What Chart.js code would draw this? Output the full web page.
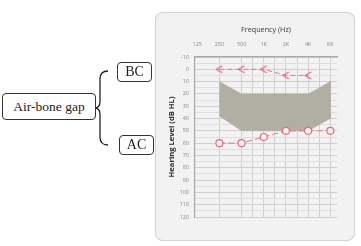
<!DOCTYPE html>
<html>
<head>
<meta charset="utf-8">
<script src="https://cdn.jsdelivr.net/npm/chart.js@4/dist/chart.umd.min.js"></script>
<style>
  html, body { margin:0; padding:0; background:#ffffff; }
  #wrap { position:relative; width:361px; height:246px; overflow:hidden; }
  #panel { position:absolute; left:155px; top:12px; width:198px; height:227px;
           background:#f2f2f2; border:1px solid #d3d3d3; border-radius:8px;
           box-shadow: 0 0 1px rgba(0,0,0,0.15); }
  canvas { position:absolute; left:0; top:0; }
  .box { position:absolute; border:1px solid #333; border-radius:4px; background:#fff;
         font-family:"Liberation Serif","Times New Roman",serif; color:#222;
         display:flex; align-items:center; justify-content:center; box-sizing:border-box; }
  svg { position:absolute; left:0; top:0; }
</style>
</head>
<body>
<div id="wrap">
  <div id="panel"></div>
  <canvas id="c" width="361" height="246"></canvas>
  <svg width="361" height="246">
    <path d="M108,71 Q100,71 100,79 L100,102 Q100,108 94,108 Q100,108 100,114 L100,137 Q100,145 108,145"
          fill="none" stroke="#222" stroke-width="1.3"/>
  </svg>
  <div class="box" style="left:2px;top:93px;width:94px;height:27px;font-size:13.5px;">Air-bone gap</div>
  <div class="box" style="left:117px;top:62px;width:35px;height:20px;font-size:14px;">BC</div>
  <div class="box" style="left:119px;top:135px;width:35px;height:20px;font-size:14px;">AC</div>
</div>
<script>
// ---- data ----
const freqLabels = ['125', '250', '500', '1K', '2K', '4K', '8K'];
const freqTickPositions = [0, 1, 2, 2.5, 3, 3.5, 4, 4.5, 5, 5.5, 6];
const bcFreqIndex = [1, 2, 3, 4, 5];
const bcLevels = [0, 0, 0, 5, 5];
const acFreqIndex = [1, 2, 3, 4, 5, 6];
const acLevels = [60, 60, 55, 50, 50, 50];
const bandFreqIndex = [1, 2, 5, 6, 6, 5, 2, 1];
const bandLevels = [10, 20, 20, 10, 40, 50, 50, 38];

const markColor = '#e26d80';
const lineColor = 'rgba(226,109,128,0.9)';

function toPoints(xs, ys) { return xs.map((x, i) => ({ x: x, y: ys[i] })); }

// "<" marker for bone conduction
const bcMarker = document.createElement('canvas');
bcMarker.width = 9; bcMarker.height = 9;
(function () {
  const g = bcMarker.getContext('2d');
  g.strokeStyle = markColor; g.lineWidth = 1.3;
  g.beginPath(); g.moveTo(7.5, 1); g.lineTo(1.5, 4.5); g.lineTo(7.5, 8); g.stroke();
})();

const tickFont = { family: '"Open Sans", "DejaVu Sans", sans-serif', size: 5.5 };

new Chart(document.getElementById('c'), {
  type: 'line',
  data: {
    datasets: [
      {
        label: 'BC',
        data: toPoints(bcFreqIndex, bcLevels),
        borderColor: lineColor, borderWidth: 1, borderDash: [5, 3],
        pointStyle: bcMarker, pointRadius: 4, order: 0
      },
      {
        label: 'AC',
        data: toPoints(acFreqIndex, acLevels),
        borderColor: lineColor, borderWidth: 1, borderDash: [6, 3],
        pointStyle: 'circle', pointRadius: 3.5, pointBorderWidth: 1.2,
        pointBorderColor: markColor, pointBackgroundColor: '#f2f2f2', order: 0
      },
      {
        label: 'band',
        data: toPoints(bandFreqIndex, bandLevels),
        borderColor: '#b1afa1', borderWidth: 0.5, backgroundColor: '#b1afa1',
        fill: 'shape', pointRadius: 0, tension: 0, order: 2
      }
    ]
  },
  options: {
    responsive: false, animation: false,
    layout: { padding: { left: 160, top: 22, right: 24, bottom: 29 } },
    plugins: { legend: { display: false }, tooltip: { enabled: false } },
    scales: {
      x: {
        type: 'linear', position: 'top', min: -0.1, max: 6.3,
        afterBuildTicks: s => { s.ticks = freqTickPositions.map(v => ({ value: v })); },
        afterFit: s => { s.height = 35; },
        ticks: {
          autoSkip: false, maxRotation: 0, padding: 9, color: '#888', font: tickFont,
          callback: v => Number.isInteger(v) ? freqLabels[v] : ''
        },
        grid: {
          drawTicks: false, lineWidth: 1,
          color: ctx => (ctx.tick && ctx.tick.value === 0) ? 'rgba(0,0,0,0)' : '#d0d0d0'
        },
        border: { color: '#a8a8a8', width: 1.2 },
        title: {
          display: true, text: 'Frequency (Hz)', color: '#3a3a3a',
          font: { family: '"Open Sans", "DejaVu Sans", sans-serif', size: 7.2 },
          padding: { top: 4, bottom: 0 }
        }
      },
      y: {
        type: 'linear', reverse: true, min: -10, max: 120,
        afterFit: s => { s.width = 35; },
        ticks: {
          stepSize: 5, autoSkip: false, padding: 6, color: '#888', font: tickFont,
          callback: v => (v % 10 === 0) ? String(v) : ''
        },
        grid: {
          drawTicks: false,
          color: ctx => (ctx.tick && ctx.tick.value % 10 === 0) ? '#cfcfcf' : '#dfdfdf'
        },
        border: { color: '#a8a8a8', width: 1.2 },
        title: {
          display: true, text: 'Hearing Level (dB HL)', color: '#2a2a2a',
          font: { family: '"Open Sans", "DejaVu Sans", sans-serif', size: 7.6, weight: 'bold' },
          padding: { top: 7, bottom: 0 }
        }
      }
    }
  }
});
</script>
</body>
</html>
